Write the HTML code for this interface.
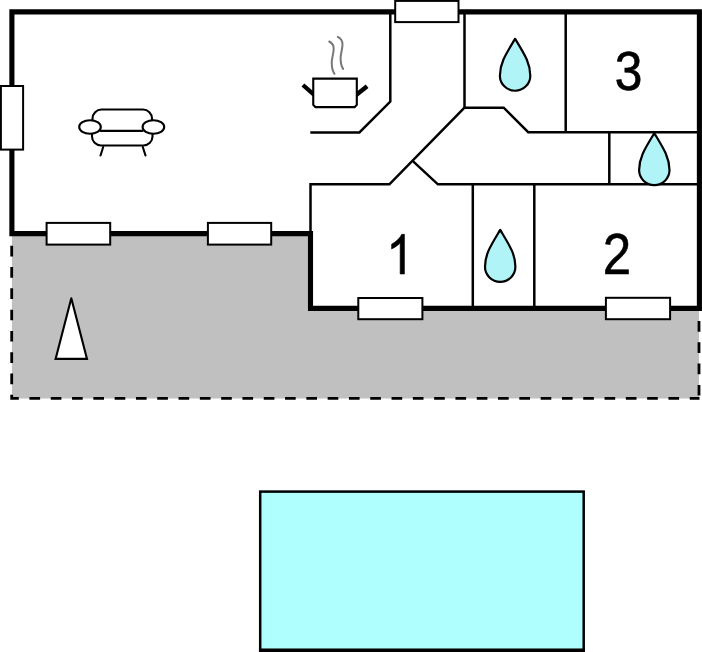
<!DOCTYPE html>
<html>
<head>
<meta charset="utf-8">
<title>Floor plan</title>
<style>
html,body{margin:0;padding:0;background:#fff;}
body{width:702px;height:652px;overflow:hidden;font-family:"Liberation Sans",sans-serif;}
svg{display:block;}
.num{font-family:"Liberation Sans",sans-serif;font-size:56px;fill:#000;text-anchor:start;stroke:#000;stroke-width:0.6px;}
</style>
</head>
<body>
<svg width="702" height="652" viewBox="0 0 702 652">
<rect x="0" y="0" width="702" height="652" fill="#fff"/>

<!-- terrace -->
<path d="M11.9 234 V398.5 H699 V308 H310.5 V234 Z" fill="#c0c0c0"/>
<path d="M11.7 235.1 V398.4 H699.5" fill="none" stroke="#000" stroke-width="2.8" stroke-dasharray="10.65 10.65" stroke-dashoffset="10.65"/>
<path d="M699 310.35 V398.4" fill="none" stroke="#000" stroke-width="2.8" stroke-dasharray="10.65 10.65" stroke-dashoffset="10.65"/>

<!-- house outer wall -->
<path d="M11.9 11.9 H699.4 V308.4 H310.5 V233.6 H11.9 Z" fill="#fff" stroke="#000" stroke-width="5.1" stroke-linejoin="miter"/>

<!-- interior thin walls -->
<g fill="none" stroke="#000" stroke-width="2.5" stroke-linejoin="miter" stroke-linecap="butt">
  <!-- kitchen counter -->
  <path d="M310.3 132.4 H359.4 L390.3 101.6 V12"/>
  <!-- room 1 outline / corridor -->
  <path d="M310.5 232 V184.3 H389.4 L464.5 107.7"/>
  <path d="M412.6 160.9 L437.9 184.3 H697"/>
  <!-- bathroom top -->
  <path d="M464.5 12 V107.7 H503.7 L528.2 132.2 H697"/>
  <path d="M565.7 12 V132.2"/>
  <path d="M609.3 132.2 V184.3"/>
  <path d="M472.8 184.3 V306"/>
  <path d="M534.3 184.3 V306"/>
</g>

<!-- windows -->
<g fill="#fff" stroke="#000" stroke-width="2">
  <rect x="0.9" y="86" width="22.2" height="63.6"/>
  <rect x="395.2" y="0.9" width="63.3" height="21.2"/>
  <rect x="46.6" y="222.9" width="63.6" height="21.7"/>
  <rect x="207.9" y="222.9" width="63.3" height="21.7"/>
  <rect x="358.3" y="298" width="64.1" height="21.2"/>
  <rect x="605.9" y="297.8" width="64.2" height="21.4"/>
</g>

<!-- sofa -->
<g fill="none" stroke="#000" stroke-width="2.1" stroke-linecap="round">
  <path d="M92.5 121 V118.5 A9 9 0 0 1 101.5 109.5 H143 A9 9 0 0 1 152 118.5 V121"/>
  <path d="M92 134 V136.5 A9 9 0 0 0 101 145.5 H143.5 A9 9 0 0 0 152.5 136.5 V134"/>
  <path d="M100.7 130.9 H142.5"/>
  <ellipse cx="90" cy="127" rx="10.8" ry="6.8" fill="#fff"/>
  <ellipse cx="153.4" cy="127" rx="10.8" ry="6.8" fill="#fff"/>
  <path d="M103.2 147 L100.5 155.5"/>
  <path d="M142.8 147 L145.5 155.5"/>
</g>

<!-- pot -->
<g fill="none" stroke="#000">
  <path d="M302.9 85.0 L314.5 95.1" stroke-width="4.3"/>
  <path d="M367.1 86.2 L355.5 95.57" stroke-width="4.4"/>
  <path d="M313.25 78.65 H356.8 V104.9 L354.6 107.1 H315.45 L313.25 104.9 Z" fill="#fff" stroke-width="2.1"/>
  <path d="M329.2 41.5 C332 43, 333.9 45.5, 333.7 49 C333.5 54, 331.6 58.5, 331.7 63 C331.8 67.5, 332.8 71.5, 334.5 73.8" stroke="#787878" stroke-width="2" stroke-linecap="round"/>
  <path d="M337.8 36.9 C340.6 38.4, 342.6 41, 342.5 44.5 C342.4 49.5, 340.6 53.5, 340.6 58 C340.6 62.5, 341.5 66.5, 343.1 68.9" stroke="#787878" stroke-width="2" stroke-linecap="round"/>
</g>

<!-- water drops -->
<g fill="#b0f4f8" stroke="#000" stroke-width="2.2" stroke-linejoin="round">
  <path id="drop" d="M515.1 38.8 C506.1 53.8, 499.9 62.8, 499.9 75.7 C499.9 84, 506.7 90.75, 515.1 90.75 C523.5 90.75, 530.3 84, 530.3 75.7 C530.3 62.8, 524.1 53.8, 515.1 38.8 Z"/>
  <path d="M515.1 38.8 C506.1 53.8, 499.9 62.8, 499.9 75.7 C499.9 84, 506.7 90.75, 515.1 90.75 C523.5 90.75, 530.3 84, 530.3 75.7 C530.3 62.8, 524.1 53.8, 515.1 38.8 Z" transform="translate(139.2 94.4)"/>
  <path d="M515.1 38.8 C506.1 53.8, 499.9 62.8, 499.9 75.7 C499.9 84, 506.7 90.75, 515.1 90.75 C523.5 90.75, 530.3 84, 530.3 75.7 C530.3 62.8, 524.1 53.8, 515.1 38.8 Z" transform="translate(-14.9 191.1)"/>
</g>

<!-- triangle -->
<path d="M71.3 298.2 L55.6 358.9 H87 L71.3 298.2" fill="#fff" stroke="#000" stroke-width="2.1" stroke-linejoin="miter" stroke-linecap="round"/>

<!-- numbers -->
<path d="M763 0 H583 V1147 Q518 1085 412.5 1023 Q307 961 223 930 V1104 Q374 1175 487 1276 Q600 1377 647 1472 H763 Z" transform="translate(386.25 274.0) scale(0.02385 -0.02695)" fill="#000" stroke="#000" stroke-width="22"/>
<text class="num" transform="translate(602.7 274.25) scale(0.912 1.022)" x="0" y="0">2</text>
<text class="num" transform="translate(614.7 90.1) scale(0.887 0.997)" x="0" y="0">3</text>

<!-- pool -->
<rect x="260.2" y="491.6" width="323.5" height="158.6" fill="#b0ffff" stroke="#000" stroke-width="2.5"/>
<rect x="258.95" y="648.5" width="326" height="4" fill="#000"/>
</svg>
</body>
</html>
